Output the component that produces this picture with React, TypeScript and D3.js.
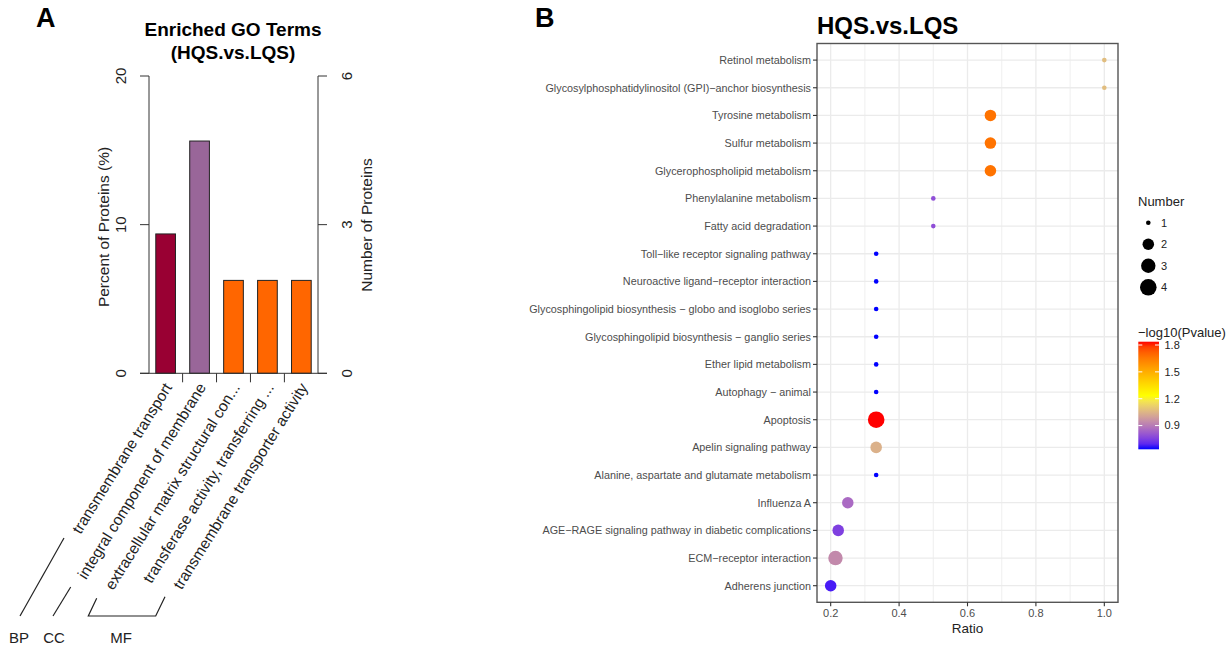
import React from "react";
import * as d3 from "d3";

// ---------- Panel A data ----------
const goTerms = [
  "transmembrane transport",
  "integral component of membrane",
  "extracellular matrix structural con...",
  "transferase activity, transferring ...",
  "transmembrane transporter activity",
];
const goPercent = [9.375, 15.625, 6.25, 6.25, 6.25];
const goCategory = ["BP", "CC", "MF", "MF", "MF"];
const pctTicks = [0, 10, 20];
const numTicks = [0, 3, 6];
const categoryColors: Record<string, string> = { BP: "#990033", CC: "#996699", MF: "#FF6600" };

// ---------- Panel B data ----------
const pathways = [
  "Retinol metabolism",
  "Glycosylphosphatidylinositol (GPI)\u2212anchor biosynthesis",
  "Tyrosine metabolism",
  "Sulfur metabolism",
  "Glycerophospholipid metabolism",
  "Phenylalanine metabolism",
  "Fatty acid degradation",
  "Toll\u2212like receptor signaling pathway",
  "Neuroactive ligand\u2212receptor interaction",
  "Glycosphingolipid biosynthesis \u2212 globo and isoglobo series",
  "Glycosphingolipid biosynthesis \u2212 ganglio series",
  "Ether lipid metabolism",
  "Autophagy \u2212 animal",
  "Apoptosis",
  "Apelin signaling pathway",
  "Alanine, aspartate and glutamate metabolism",
  "Influenza A",
  "AGE\u2212RAGE signaling pathway in diabetic complications",
  "ECM\u2212receptor interaction",
  "Adherens junction",
];
const ratios = [1, 1, 0.667, 0.667, 0.667, 0.5, 0.5, 0.333, 0.333, 0.333, 0.333, 0.333, 0.333, 0.333, 0.333, 0.333, 0.25, 0.222, 0.214, 0.2];
const numbers = [1, 1, 2, 2, 2, 1, 1, 1, 1, 1, 1, 1, 1, 4, 2, 1, 2, 2, 3, 2];
const logP = [1.07, 1.07, 1.67, 1.67, 1.67, 0.785, 0.785, 0.635, 0.635, 0.635, 0.635, 0.635, 0.635, 1.837, 1.04, 0.635, 0.857, 0.75, 0.936, 0.67];
const ratioTicks = [0.2, 0.4, 0.6, 0.8, 1.0];
const ratioMinorTicks = [0.3, 0.5, 0.7, 0.9];
const numberLegend = [1, 2, 3, 4];
const pLegendTicks = [0.9, 1.2, 1.5, 1.8];

const FONT = "'Liberation Sans', Arial, Helvetica, sans-serif";

function PanelA() {
  const y0 = 373.3, yTop = 76;
  const yPct = d3.scaleLinear().domain([0, 20]).range([y0, yTop]);
  const yNum = d3.scaleLinear().domain([0, 6]).range([y0, yTop]);
  const xL = 149, xR = 318;
  const x = d3.scaleBand<string>().domain(goTerms).range([xL, xR]).paddingInner(0.42).paddingOuter(0.2);
  const bw = x.bandwidth();
  const gap = x.step() - bw;
  const dividers = goTerms.slice(0, -1).map((t) => (x(t) as number) + bw + gap / 2);
  const ang = -58;
  // bracket annotation lines
  const brackets = [
    { pts: [[20, 616], [64, 538]], label: "BP", lx: 19 },
    { pts: [[53, 616], [70.7, 587]], label: "CC", lx: 54 },
    { pts: [[96.7, 598.3], [88.3, 616], [155.7, 616], [165, 596.7]], label: "MF", lx: 121 },
  ];
  return (
    <g fontFamily={FONT}>
      <text x={36} y={27} fontSize={27} fontWeight="bold">A</text>
      <text x={233} y={36} fontSize={19} fontWeight="bold" textAnchor="middle">Enriched GO Terms</text>
      <text x={233} y={59} fontSize={19} fontWeight="bold" textAnchor="middle">(HQS.vs.LQS)</text>
      {goTerms.map((t, i) => (
        <rect key={t} x={x(t)} y={yPct(goPercent[i])} width={bw} height={y0 - yPct(goPercent[i])}
          fill={categoryColors[goCategory[i]]} stroke="#222" strokeWidth={1} />
      ))}
      {/* left axis */}
      <line x1={xL} x2={xL} y1={yTop} y2={y0} stroke="#333" strokeWidth={1} />
      {pctTicks.map((v) => (
        <g key={v}>
          <line x1={xL - 9} x2={xL} y1={yPct(v)} y2={yPct(v)} stroke="#333" />
          <text transform={`translate(126,${yPct(v)}) rotate(-90)`} fontSize={15} textAnchor="middle" fill="#222">{v}</text>
        </g>
      ))}
      <text transform="translate(109,227) rotate(-90)" fontSize={15.5} textAnchor="middle" fill="#222">Percent of Proteins (%)</text>
      {/* right axis */}
      <line x1={xR} x2={xR} y1={yTop} y2={y0} stroke="#333" strokeWidth={1} />
      {numTicks.map((v) => (
        <g key={v}>
          <line x1={xR} x2={xR + 9} y1={yNum(v)} y2={yNum(v)} stroke="#333" />
          <text transform={`translate(352,${yNum(v)}) rotate(-90)`} fontSize={15} textAnchor="middle" fill="#222">{v}</text>
        </g>
      ))}
      <text transform="translate(372,225) rotate(-90)" fontSize={15.5} textAnchor="middle" fill="#222">Number of Proteins</text>
      {/* baseline */}
      <line x1={xL - 9} x2={xR + 9} y1={y0} y2={y0} stroke="#333" />
      {dividers.map((d, i) => (
        <line key={i} x1={d} x2={d} y1={y0} y2={y0 + 9} stroke="#333" />
      ))}
      {goTerms.map((t) => (
        <text key={t} transform={`translate(${(x(t) as number) + bw / 2 + 7},${y0 + 14}) rotate(${ang})`}
          fontSize={15.5} textAnchor="end" fill="#222">{t}</text>
      ))}
      {brackets.map((b) => (
        <g key={b.label}>
          <polyline points={b.pts.map((p) => p.join(",")).join(" ")} fill="none" stroke="#222" strokeWidth={1.2} />
          <text x={b.lx} y={643} fontSize={15} textAnchor="middle" fill="#222">{b.label}</text>
        </g>
      ))}
    </g>
  );
}

function PanelB() {
  const left = 817, right = 1118, top = 43.5, bottom = 602.3;
  const x = d3.scaleLinear().domain([0.16, 1.04]).range([left, right]);
  const y = d3.scalePoint<string>().domain(pathways).range([top, bottom]).padding(0.6);
  const [pMin, pMax] = d3.extent(logP) as [number, number];
  const pMid = (pMin + pMax) / 2;
  const color = d3.scaleLinear<string>().domain([pMin, pMid, pMax]).range(["#0000FF", "#FFFF00", "#FF0000"]).interpolate(d3.interpolateLab);
  const [nMin, nMax] = d3.extent(numbers) as [number, number];
  const sizeT = d3.scaleSqrt().domain([0, nMax - nMin]).range([0, 1]);
  const rLin = d3.scaleLinear().domain([0, 1]).range([2.3, 8.3]);
  const r = (n: number) => rLin(sizeT(n - nMin));
  const grid = "#EBEBEB";
  const axisText = "#4D4D4D";
  // legend
  const legX = 1138;
  const legDotX = 1148.3;
  const legY = d3.scaleLinear().domain([1, 4]).range([222.7, 287.3]);
  const cbTop = 341.7, cbBottom = 449.3, cbX = 1138.3, cbW = 20.7;
  const cbY = d3.scaleLinear().domain([pMin, pMax]).range([cbBottom, cbTop]);
  const stops = d3.range(0, 21).map((i) => pMin + (i / 20) * (pMax - pMin));
  return (
    <g fontFamily={FONT}>
      <text x={535} y={27} fontSize={27} fontWeight="bold">B</text>
      <text x={817} y={33.5} fontSize={24} fontWeight="bold">HQS.vs.LQS</text>
      <rect x={left} y={top} width={right - left} height={bottom - top} fill="#fff" />
      {ratioMinorTicks.map((v) => (
        <line key={"m" + v} x1={x(v)} x2={x(v)} y1={top} y2={bottom} stroke={grid} strokeWidth={0.8} />
      ))}
      {ratioTicks.map((v) => (
        <line key={"M" + v} x1={x(v)} x2={x(v)} y1={top} y2={bottom} stroke={grid} strokeWidth={1.3} />
      ))}
      {pathways.map((p) => (
        <line key={"h" + p} x1={left} x2={right} y1={y(p)} y2={y(p)} stroke={grid} strokeWidth={1.3} />
      ))}
      {pathways.map((p, i) => (
        <circle key={"c" + p} cx={x(ratios[i])} cy={y(p)} r={r(numbers[i])} fill={color(logP[i])} />
      ))}
      <rect x={left} y={top} width={right - left} height={bottom - top} fill="none" stroke="#555" strokeWidth={1.4} />
      {pathways.map((p) => (
        <g key={"t" + p}>
          <line x1={left - 4} x2={left} y1={y(p)} y2={y(p)} stroke="#333" strokeWidth={1.1} />
          <text x={left - 6} y={(y(p) as number) + 3.8} fontSize={10.8} textAnchor="end" fill={axisText}>{p}</text>
        </g>
      ))}
      {ratioTicks.map((v) => (
        <g key={"xt" + v}>
          <line x1={x(v)} x2={x(v)} y1={bottom} y2={bottom + 4} stroke="#333" strokeWidth={1.1} />
          <text x={x(v)} y={617} fontSize={11} textAnchor="middle" fill={axisText}>{v.toFixed(1)}</text>
        </g>
      ))}
      <text x={(left + right) / 2} y={633} fontSize={13.5} textAnchor="middle" fill="#222">Ratio</text>
      {/* size legend */}
      <text x={legX} y={206} fontSize={13} fill="#222">Number</text>
      {numberLegend.map((n) => (
        <g key={"l" + n}>
          <circle cx={legDotX} cy={legY(n)} r={r(n)} fill="#000" />
          <text x={1161} y={legY(n) + 3.8} fontSize={11} fill="#222">{n}</text>
        </g>
      ))}
      {/* colour legend */}
      <defs>
        <linearGradient id="pgrad" x1="0" y1="1" x2="0" y2="0">
          {stops.map((v, i) => (
            <stop key={i} offset={`${(i / 20) * 100}%`} stopColor={color(v)} />
          ))}
        </linearGradient>
      </defs>
      <text x={legX} y={336.5} fontSize={13} fill="#222">{"\u2212log10(Pvalue)"}</text>
      <rect x={cbX} y={cbTop} width={cbW} height={cbBottom - cbTop} fill="url(#pgrad)" />
      {pLegendTicks.map((v) => (
        <g key={"p" + v}>
          <line x1={cbX} x2={cbX + 4} y1={cbY(v)} y2={cbY(v)} stroke="#fff" strokeWidth={1} />
          <line x1={cbX + cbW - 4} x2={cbX + cbW} y1={cbY(v)} y2={cbY(v)} stroke="#fff" strokeWidth={1} />
          <text x={1164.5} y={cbY(v) + 3.8} fontSize={11} fill="#222">{v.toFixed(1)}</text>
        </g>
      ))}
    </g>
  );
}

export default function App() {
  return (
    <svg width={1232} height={648} viewBox="0 0 1232 648"
      style={{ position: "absolute", left: 0, top: 0, display: "block", background: "#fff" }}>
      <rect width={1232} height={648} fill="#fff" />
      <PanelA />
      <PanelB />
    </svg>
  );
}
